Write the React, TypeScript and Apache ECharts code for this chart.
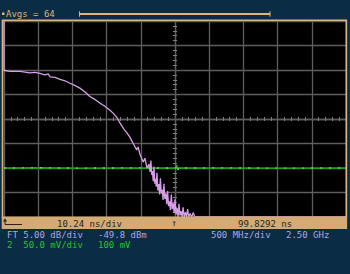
import { useEffect, useRef } from 'react';
import * as echarts from 'echarts';

// FFT trace: [frequency MHz, power dBm]
const fftTrace: [number, number][] = [
  [0, -20], [0, -39.9], [15, -39.9], [90, -40.1], [235, -40.1], [380, -40.4],
  [455, -40.3], [525, -40.5], [570, -40.7], [600, -40.8], [645, -40.6],
  [675, -41.2], [745, -41.3], [820, -41.7], [890, -42.0], [965, -42.5],
  [1040, -43.0], [1110, -43.5], [1185, -44.3], [1255, -45.2], [1330, -45.8],
  [1405, -46.6], [1475, -47.2], [1550, -48.0], [1595, -48.6], [1650, -49.5],
  [1695, -50.6], [1755, -51.9], [1800, -52.7], [1840, -53.5], [1885, -54.7],
  [1940, -56.1], [1960, -55.5], [1990, -57.1], [2035, -58.6], [2060, -57.8],
  [2090, -59.8], [2120, -59.0], [2135, -60.6], [2148, -58.3], [2160, -61.2],
  [2170, -60.4], [2182, -62.5], [2192, -59.5], [2205, -63.0], [2214, -62.0],
  [2226, -63.6], [2236, -60.8], [2250, -64.4], [2262, -63.1], [2275, -65.2],
  [2286, -61.9], [2300, -65.0], [2312, -64.2], [2326, -66.3], [2338, -63.0],
  [2352, -66.1], [2366, -65.0], [2380, -67.2], [2392, -64.5], [2406, -67.6],
  [2420, -66.6], [2434, -68.4], [2446, -65.2], [2460, -68.2], [2474, -67.0],
  [2488, -69.0], [2500, -66.2], [2515, -69.3], [2530, -68.0], [2545, -69.8],
  [2558, -67.1], [2572, -69.5], [2588, -68.6], [2604, -69.8], [2618, -67.8],
  [2634, -69.8], [2652, -68.8], [2668, -69.8], [2684, -68.2], [2700, -69.8],
  [2720, -69.1], [2745, -69.8], [2765, -68.9], [2790, -69.8], [5000, -69.8],
];

// Channel 2 time trace: [time ns, mV]
const ch2Trace: [number, number][] = [
  [48.63, 0], [60, 0.4], [72, -0.3], [85, 0.3], [100.1, 0], [100.4, 6],
  [100.7, -4], [101.0, 1], [101.3, 0], [115, 0.3], [130, -0.3], [151.03, 0],
];

const freqRangeMHz = [0, 5000];
const dbmRange = [-69.8, -29.8];
const timeRangeNs = [48.6292, 151.0292];
const mvRange = [-100, 300];
const xDivisions = [0, 10];
const yDivisions = [0, 8];

const headerText = 'Avgs = 64';
const timebaseLabels = ['10.24 ns/div', '↑', '99.8292 ns'];
const ftLabels = ['FT 5.00 dB/div', '-49.8 dBm', '500 MHz/div', '2.50 GHz'];
const ch2Labels = ['2  50.0 mV/div', '100 mV'];

const BG = '#0a2d43';
const TAN = '#dcb47c';
const BAND = '#d4ab74';
const GRID = '#5e5e5e';
const LAV = '#b2a2e2';
const GRN = '#2cc02c';
const FONT = '9px "DejaVu Sans Mono", monospace';

export default function App() {
  const ref = useRef<HTMLDivElement>(null);
  useEffect(() => {
    if (!ref.current) return;
    const chart = echarts.init(ref.current, undefined, { renderer: 'svg' });
    const hidden = { show: false };
    const centerX = (inside: boolean) => ({
      type: 'value', min: -5, max: 5, interval: 1,
      axisLine: { show: !inside, onZero: true, onZeroAxisIndex: 3, lineStyle: { color: GRID, width: 1.3 } },
      axisTick: { show: false, inside },
      minorTick: { show: true, splitNumber: 5, length: 2, lineStyle: { color: '#808080', width: 1 } },
      axisLabel: { show: false }, splitLine: { show: false },
    });
    const centerY = (inside: boolean) => ({
      type: 'value', min: -4, max: 4, interval: 1,
      axisLine: { show: !inside, onZero: true, onZeroAxisIndex: 3, lineStyle: { color: GRID, width: 1.3 } },
      axisTick: { show: false, inside },
      minorTick: { show: true, splitNumber: 5, length: 2, lineStyle: { color: '#808080', width: 1 } },
      axisLabel: { show: false }, splitLine: { show: false },
    });
    const txt = (text: string, x: number, y: number, fill: string) => ({
      type: 'text', x, y, z: 100,
      style: { text, fill, font: FONT, align: 'left', verticalAlign: 'middle' },
    });
    chart.setOption({
      animation: false,
      backgroundColor: BG,
      grid: { left: 4, top: 21, width: 342, height: 196, show: true, backgroundColor: '#000', borderWidth: 0 },
      xAxis: [
        { type: 'value', min: freqRangeMHz[0], max: freqRangeMHz[1], ...hidden },
        { type: 'value', min: timeRangeNs[0], max: timeRangeNs[1], ...hidden },
        {
          type: 'value', min: xDivisions[0], max: xDivisions[1], interval: 1,
          axisLine: { show: false }, axisTick: { show: false }, axisLabel: { show: false },
          splitLine: { show: true, lineStyle: { color: GRID, width: 1.3 } },
        },
        centerX(false),
        centerX(true),
      ],
      yAxis: [
        { type: 'value', min: dbmRange[0], max: dbmRange[1], ...hidden },
        { type: 'value', min: mvRange[0], max: mvRange[1], ...hidden },
        {
          type: 'value', min: yDivisions[0], max: yDivisions[1], interval: 1,
          axisLine: { show: false }, axisTick: { show: false }, axisLabel: { show: false },
          splitLine: { show: true, lineStyle: { color: GRID, width: 1.3 } },
        },
        centerY(false),
        centerY(true),
      ],
      series: [
        {
          type: 'line', xAxisIndex: 1, yAxisIndex: 1, data: ch2Trace, symbol: 'none', clip: true,
          lineStyle: { color: '#19a819', width: 1.4 }, z: 5,
        },
        {
          type: 'line', xAxisIndex: 1, yAxisIndex: 1, data: ch2Trace, symbol: 'none', clip: true,
          lineStyle: { color: '#52e852', width: 1.4, type: [2, 7] }, z: 6,
        },
        {
          type: 'line', xAxisIndex: 0, yAxisIndex: 0, data: fftTrace, symbol: 'none', clip: true,
          lineStyle: { color: '#d69ee8', width: 1.3 }, z: 7,
        },
      ],
      graphic: [
        { type: 'rect', z: 90, shape: { x: 2.5, y: 20.3, width: 343.8, height: 197 }, style: { fill: null, stroke: TAN, lineWidth: 1.6 } },
        { type: 'rect', z: 91, shape: { x: 1.7, y: 217, width: 345.4, height: 12 }, style: { fill: BAND } },
        // header
        { type: 'rect', z: 100, shape: { x: 2, y: 12.5, width: 2.5, height: 2.5 }, style: { fill: TAN } },
        txt(headerText, 6, 14, TAN),
        { type: 'line', z: 100, shape: { x1: 79, y1: 14, x2: 270, y2: 14 }, style: { stroke: TAN, lineWidth: 2.2 } },
        { type: 'line', z: 100, shape: { x1: 79.5, y1: 11.3, x2: 79.5, y2: 16.7 }, style: { stroke: TAN, lineWidth: 1 } },
        { type: 'line', z: 100, shape: { x1: 270, y1: 11.3, x2: 270, y2: 16.7 }, style: { stroke: TAN, lineWidth: 1 } },
        // bottom band
        { type: 'polyline', z: 100, shape: { points: [[5, 219], [5, 224.5], [22, 224.5]] }, style: { stroke: '#2a2418', lineWidth: 1, fill: null } },
        { type: 'polygon', z: 100, shape: { points: [[3, 221.5], [5, 218.5], [7, 221.5]] }, style: { fill: '#2a2418' } },
        txt(timebaseLabels[0], 57, 223.5, '#2a2418'),
        txt(timebaseLabels[1], 171.5, 223, '#2a2418'),
        txt(timebaseLabels[2], 238, 223.5, '#2a2418'),
        // info lines
        txt(ftLabels[0], 7, 234.5, LAV),
        txt(ftLabels[1], 98, 234.5, LAV),
        txt(ftLabels[2], 211, 234.5, LAV),
        txt(ftLabels[3], 286, 234.5, LAV),
        txt(ch2Labels[0], 7, 244.5, GRN),
        txt(ch2Labels[1], 98, 244.5, GRN),
      ],
    });
    return () => chart.dispose();
  }, []);
  return <div ref={ref} style={{ position: 'fixed', left: 0, top: 0, width: 350, height: 274 }} />;
}
